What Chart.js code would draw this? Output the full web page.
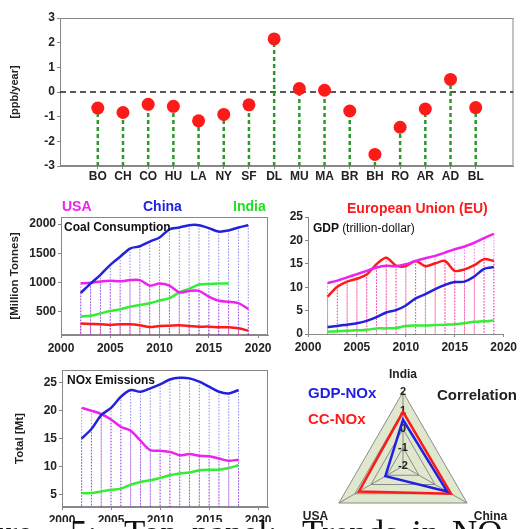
<!DOCTYPE html>
<html>
<head>
<meta charset="utf-8">
<script src="https://cdn.jsdelivr.net/npm/chart.js@4.4.1/dist/chart.umd.min.js"></script>
<style>
  html, body { margin: 0; padding: 0; background: #fff; }
  body { position: relative; width: 520px; height: 529px; overflow: hidden; font-family: "Liberation Sans", Arial, sans-serif; }
  canvas { position: absolute; }
  .t { position: absolute; white-space: nowrap; font-weight: bold; line-height: 1; z-index: 3; }
  .capbg { position: absolute; left: 0; top: 522px; width: 520px; height: 10px; background: #fff; z-index: 5; }
  .cap { position: absolute; top: 516px; font-family: "Liberation Serif", "Times New Roman", serif; font-size: 35px; line-height: 35px; color: #111; z-index: 6; white-space: nowrap; }
</style>
</head>
<body>
<canvas id="trend" width="520" height="185" style="left:0;top:0"></canvas>
<canvas id="coal" width="275" height="165" style="left:0;top:190px"></canvas>
<canvas id="gdp" width="250" height="165" style="left:270px;top:190px"></canvas>
<canvas id="nox" width="275" height="174" style="left:0;top:355px"></canvas>
<canvas id="corr" width="220" height="200" style="left:300px;top:355px"></canvas>

<span class="t" style="left:62px;top:199px;font-size:14px;color:#ee22ee">USA</span>
<span class="t" style="left:143px;top:199px;font-size:14px;color:#2222dd">China</span>
<span class="t" style="left:233px;top:199px;font-size:14px;color:#22dd22">India</span>
<span class="t" style="left:347px;top:201px;font-size:14px;color:#ff1a1a">European Union (EU)</span>
<span class="t" style="left:64px;top:221px;font-size:12px;color:#111">Coal Consumption</span>
<span class="t" style="left:313px;top:222px;font-size:12px;color:#111">GDP <span style="font-weight:normal">(trillion-dollar)</span></span>
<span class="t" style="left:67px;top:374px;font-size:12px;color:#111">NOx Emissions</span>
<span class="t" style="left:308px;top:385px;font-size:15px;color:#2020e0">GDP-NOx</span>
<span class="t" style="left:308px;top:411px;font-size:15px;color:#ff1a1a">CC-NOx</span>
<span class="t" style="left:437px;top:387px;font-size:15px;color:#222">Correlation</span>

<div class="capbg"></div>
<span class="cap" style="left:-12px">ure</span>
<span class="cap" style="left:70px">5:</span>
<span class="cap" style="left:124px">Top</span>
<span class="cap" style="left:192px">panel:</span>
<span class="cap" style="left:302px">Trends</span>
<span class="cap" style="left:412px">in</span>
<span class="cap" style="left:452px">NO</span>

<script>
// top panel: trend per station
const stations = ['BO','CH','CO','HU','LA','NY','SF','DL','MU','MA','BR','BH','RO','AR','AD','BL'];
const trends = [-0.65, -0.83, -0.5, -0.58, -1.17, -0.91, -0.52, 2.15, 0.14, 0.07, -0.77, -2.53, -1.43, -0.69, 0.51, -0.63];

// coal consumption [Million Tonnes]
const years = [2002,2003,2004,2005,2006,2007,2008,2009,2010,2011,2012,2013,2014,2015,2016,2017,2018,2019];
const coalChina = [820, 980, 1130, 1300, 1440, 1580, 1620, 1700, 1770, 1910, 1940, 1980, 1980, 1930, 1870, 1890, 1940, 1980];
const coalUSA = [985, 995, 1015, 1030, 1020, 1040, 1040, 945, 980, 945, 830, 855, 855, 755, 685, 670, 645, 545];
const coalIndia = [415, 430, 470, 510, 540, 585, 615, 645, 690, 730, 830, 890, 965, 975, 980, 980];
const coalEU = [295, 290, 285, 272, 283, 283, 266, 238, 255, 260, 266, 255, 243, 243, 232, 232, 215, 175];
const coalTicks = [500, 1000, 1500, 2000];

// GDP (trillion-dollar)
const gdpUSA = [10.9, 11.4, 12.1, 12.8, 13.5, 14.2, 14.6, 14.5, 14.9, 15.6, 16.2, 16.7, 17.4, 18.1, 18.7, 19.5, 20.5, 21.4];
const gdpEU = [8.0, 10.1, 11.2, 11.8, 12.7, 14.9, 16.3, 14.6, 14.5, 15.6, 14.5, 15.1, 15.6, 13.5, 13.8, 14.7, 16.0, 15.6];
const gdpChina = [1.5, 1.7, 2.0, 2.3, 2.8, 3.6, 4.6, 5.1, 6.1, 7.6, 8.5, 9.6, 10.5, 11.1, 11.2, 12.3, 13.9, 14.3];
const gdpIndia = [0.5, 0.6, 0.7, 0.8, 0.9, 1.2, 1.2, 1.3, 1.7, 1.8, 1.8, 1.9, 2.0, 2.1, 2.3, 2.6, 2.7, 2.9];
const gdpTicks = [0, 5, 10, 15, 20, 25];

// NOx emissions, total [Mt], 2002-2018
const noxChina = [15.0, 16.7, 19.2, 20.5, 22.5, 23.7, 23.4, 24.0, 24.7, 25.6, 25.9, 25.8, 25.2, 24.3, 23.4, 23.1, 23.7];
const noxUSA = [20.5, 20.0, 19.4, 18.4, 17.1, 16.4, 14.6, 12.9, 12.8, 12.6, 12.0, 12.2, 11.9, 11.8, 11.4, 11.0, 11.2];
const noxIndia = [5.2, 5.2, 5.5, 5.8, 6.0, 6.7, 7.2, 7.5, 7.9, 8.4, 8.7, 8.9, 9.3, 9.4, 9.4, 9.7, 10.2];
const noxTicks = [5, 10, 15, 20, 25];

const yearTicks = [2000, 2005, 2010, 2015, 2020];

// correlation radar
const radarAxes = ['India', 'China', 'USA'];
const gdpNox = [0.5, 0.75, -0.9];
const ccNox = [0.93, 1.0, 0.75];

const MAG = '#ee22ee', BLUE = '#2222dd', GREEN = '#33ee33', RED = '#ff1a1a';

Chart.defaults.font.family = '"Liberation Sans", Arial, sans-serif';
Chart.defaults.color = '#222';
Chart.defaults.animation = false;
Chart.defaults.responsive = false;
Chart.defaults.plugins.legend.display = false;
Chart.defaults.plugins.tooltip.enabled = false;

const bold12 = { size: 12, weight: 'bold' };

// grey box round the plot area
const frame = {
  id: 'frame',
  beforeDatasetsDraw(chart) {
    const a = chart.chartArea, c = chart.ctx;
    c.save();
    c.strokeStyle = '#888';
    c.lineWidth = 1;
    c.strokeRect(a.left + 0.5, a.top + 0.5, a.width - 1, a.height - 1);
    c.restore();
  }
};

function pts(xs, ys) {
  return ys.map((v, i) => ({ x: xs[i], y: v }));
}

// vertical lines from each value down to the bottom of the axis
function drops(xs, ys, base) {
  const out = [];
  ys.forEach((v, i) => {
    out.push({ x: xs[i], y: v }, { x: xs[i], y: base }, { x: xs[i], y: null });
  });
  return out;
}

function line(data, color) {
  return { data: data, borderColor: color, borderWidth: 2.5, pointRadius: 0, tension: 0.3, order: 0 };
}

function dropSet(data, color) {
  return { data: data, borderColor: color, borderWidth: 1, borderDash: [1.5, 1.5], pointRadius: 0, spanGaps: false, order: 5 };
}

// ---- top panel
const stemPts = [];
trends.forEach((v, i) => {
  stemPts.push({ x: i + 1.5, y: -3 }, { x: i + 1.5, y: v }, { x: i + 1.5, y: null });
});

new Chart(document.getElementById('trend'), {
  type: 'line',
  data: {
    datasets: [
      { data: trends.map((v, i) => ({ x: i + 1.5, y: v })), showLine: false, pointRadius: 6.5,
        pointBackgroundColor: RED, pointBorderWidth: 0, order: 0 },
      { data: stemPts, borderColor: '#2a9a2a', borderWidth: 2.5, borderDash: [4, 3], pointRadius: 0, spanGaps: false, order: 1 },
      { data: [{ x: 0, y: 0 }, { x: 18, y: 0 }], borderColor: '#222', borderWidth: 1.5, borderDash: [6, 4], pointRadius: 0, order: 2 }
    ]
  },
  options: {
    layout: { padding: { top: 18, right: 2 } },
    scales: {
      x: {
        type: 'linear', min: 0, max: 18,
        afterFit: s => { s.height = 19; },
        afterBuildTicks: s => { s.ticks = stations.map((n, i) => ({ value: i + 1.5 })); },
        ticks: { autoSkip: false, maxRotation: 0, padding: 0, font: bold12, callback: (v, i) => stations[i] },
        grid: { drawOnChartArea: false, tickLength: 3, color: '#888' },
        border: { color: '#888' }
      },
      y: {
        min: -3, max: 3,
        afterFit: s => { s.width = 60; },
        ticks: { stepSize: 1, padding: 2, font: bold12 },
        grid: { drawOnChartArea: false, tickLength: 3, color: '#888' },
        border: { color: '#888' },
        title: { display: true, text: '[ppb/year]', font: { size: 11, weight: 'bold' }, padding: { top: 8, bottom: 0 } }
      }
    }
  },
  plugins: [frame]
});

// ---- shared builder for the three time-series panels
function panel(id, datasets, o) {
  return new Chart(document.getElementById(id), {
    type: 'line',
    data: { datasets: datasets },
    options: {
      layout: { padding: { top: o.top, right: o.right } },
      scales: {
        x: {
          type: 'linear', min: 2000, max: o.xmax,
          afterFit: s => { s.height = o.xh; },
          afterBuildTicks: s => { s.ticks = yearTicks.map(v => ({ value: v })); },
          ticks: { autoSkip: false, maxRotation: 0, padding: 3, font: bold12, callback: v => String(v) },
          grid: { drawOnChartArea: false, tickLength: 3, color: '#888' },
          border: { color: '#888' }
        },
        y: {
          min: o.ymin, max: o.ymax,
          afterFit: s => { s.width = o.yw; },
          afterBuildTicks: s => { s.ticks = o.yticks.map(v => ({ value: v })); },
          ticks: { autoSkip: false, padding: 2, font: bold12, callback: v => String(v) },
          grid: { drawOnChartArea: false, tickLength: 3, color: '#888' },
          border: { color: '#888' },
          title: o.title ? { display: true, text: o.title, font: { size: 11.5, weight: 'bold' }, padding: { top: o.titlePad, bottom: 0 } } : { display: false }
        }
      }
    },
    plugins: o.frame ? [frame] : []
  });
}

const noxYears = years.slice(0, noxChina.length);

panel('coal', [
  line(pts(years, coalChina), BLUE),
  line(pts(years, coalUSA), MAG),
  line(pts(years, coalIndia), GREEN),
  line(pts(years, coalEU), RED),
  dropSet(drops(years, coalChina, 100), 'rgba(40,40,220,0.55)'),
  dropSet(drops(years, coalUSA, 100), 'rgba(238,34,238,0.6)'),
  dropSet(drops(years, coalEU, 100), 'rgba(255,30,30,0.6)')
], { top: 27, right: 7, xmax: 2021, xh: 20, ymin: 100, ymax: 2120, yticks: coalTicks, yw: 61, title: '[Million Tonnes]', titlePad: 8, frame: true });

panel('gdp', [
  line(pts(years, gdpUSA), MAG),
  line(pts(years, gdpEU), RED),
  line(pts(years, gdpChina), BLUE),
  line(pts(years, gdpIndia), GREEN),
  dropSet(drops(years, gdpUSA, 0), 'rgba(238,34,238,0.6)'),
  dropSet(drops(years, gdpEU, 0), 'rgba(255,30,30,0.6)')
], { top: 27, right: 13, xmax: 2020, xh: 21, ymin: 0, ymax: 25, yticks: gdpTicks, yw: 38, frame: false });

panel('nox', [
  line(pts(noxYears, noxChina), BLUE),
  line(pts(noxYears, noxUSA), MAG),
  line(pts(noxYears, noxIndia), GREEN),
  dropSet(drops(noxYears, noxChina, 2.7), 'rgba(40,40,220,0.55)'),
  dropSet(drops(noxYears, noxUSA, 2.7), 'rgba(238,34,238,0.6)')
], { top: 15, right: 7, xmax: 2021, xh: 22, ymin: 2.7, ymax: 27.3, yticks: noxTicks, yw: 62, title: 'Total [Mt]', titlePad: 13, frame: true });

// ---- radar of correlations
const axisNames = {
  id: 'axisNames',
  afterDraw(chart) {
    const r = chart.scales.r, c = chart.ctx;
    c.save();
    c.font = 'bold 12px "Liberation Sans", Arial';
    c.fillStyle = '#222';
    c.textAlign = 'center';
    c.textBaseline = 'middle';
    chart.data.labels.forEach((name, i) => {
      const p = r.getPointPosition(i, r.drawingArea + (i === 0 ? 17 : 27));
      c.fillText(name, p.x, p.y);
    });
    c.restore();
  }
};

new Chart(document.getElementById('corr'), {
  type: 'radar',
  data: {
    labels: radarAxes,
    datasets: [
      { data: gdpNox, borderColor: '#2020e0', borderWidth: 2.5, fill: false, pointRadius: 0 },
      { data: ccNox, borderColor: RED, borderWidth: 2.5, fill: false, pointRadius: 0 }
    ]
  },
  options: {
    layout: { padding: { left: 21, top: 29, right: 35, bottom: 7 } },
    elements: { line: { tension: 0 } },
    scales: {
      r: {
        min: -2, max: 2,
        backgroundColor: '#dfe8cc',
        grid: { color: '#8a8a8a', lineWidth: 1 },
        angleLines: { color: '#8a8a8a' },
        pointLabels: { display: false },
        ticks: { stepSize: 1, showLabelBackdrop: false, color: '#222', font: { size: 11, weight: 'bold' } }
      }
    }
  },
  plugins: [axisNames]
});
</script>
</body>
</html>
